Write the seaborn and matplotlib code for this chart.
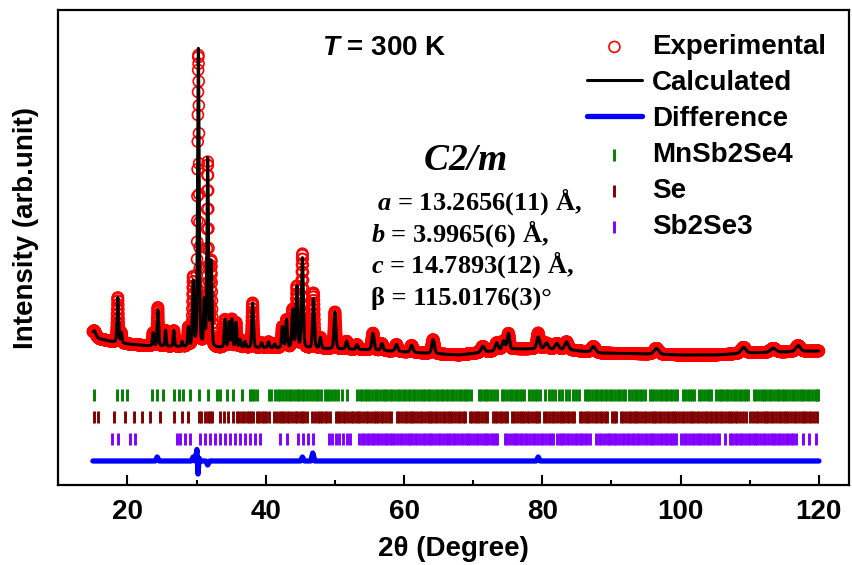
import numpy as np
import pandas as pd
import seaborn as sns
import matplotlib.pyplot as plt
from matplotlib.ticker import MultipleLocator

# Rietveld refinement of MnSb2Se4 at 300 K (arb. units)

# reflections of the calculated profile: position (deg), height above background, fwhm (deg)
peak_pos = [15.2, 18.6, 19.1, 23.7, 24.4, 25.5, 26.7, 27.9, 28.8, 29.5, 30.25, 31.1,
            31.6, 32.1, 34.1, 34.7, 35.1, 35.7, 36.3, 37.0, 38.1, 39.4, 40.4, 41.3,
            42.4, 43.0, 43.9, 44.5, 45.3, 46.9, 47.9, 50.0, 51.7, 53.2, 55.5, 56.8,
            58.9, 61.1, 64.2, 71.4, 73.4, 74.4, 75.1, 79.4, 80.6, 82.1, 83.5, 87.4,
            96.5, 109.1, 113.4, 117.0]
peak_height = [5, 45, 10, 13, 36, 16, 16, 5, 19, 64, 299, 44,
               187, 84, 28, 25, 28, 25, 8, 6, 45, 5, 6, 4,
               21, 28, 38, 61, 90, 50, 11, 37, 8, 5, 17, 7,
               7, 7, 14, 6, 8, 9, 16, 12, 6, 6, 8, 6,
               6, 6, 4, 6]
peak_fwhm = [0.5, 0.25, 0.22, 0.22, 0.25, 0.22, 0.22, 0.22, 0.22, 0.25, 0.26, 0.22,
             0.25, 0.25, 0.25, 0.22, 0.22, 0.25, 0.28, 0.28, 0.28, 0.3, 0.3, 0.3,
             0.28, 0.28, 0.28, 0.28, 0.3, 0.3, 0.3, 0.32, 0.35, 0.35, 0.4, 0.4,
             0.45, 0.45, 0.45, 0.6, 0.5, 0.5, 0.4, 0.5, 0.6, 0.6, 0.6, 0.7,
             0.8, 0.8, 0.9, 0.8]

# background of the pattern
bg_pos = [15, 16, 18, 20, 23, 28, 33, 40, 50, 55, 60, 65, 68, 72, 76, 80, 84, 88,
          95, 100, 105, 110, 115, 120]
bg_int = [150, 146, 143, 141, 139, 138, 137, 137, 136, 135, 133, 131, 130, 133, 136,
          136, 135, 132, 131, 130, 130, 132, 133, 134]

# difference curve (obs - calc), offset below the pattern
diff_pos = [15, 24.0, 24.3, 24.6, 29.2, 29.5, 29.8, 30.05, 30.2, 30.35, 30.5, 31.3,
            31.6, 31.9, 45.0, 45.3, 45.6, 46.5, 46.8, 47.1, 79.1, 79.4, 79.7, 120]
diff_int = [24, 24, 28, 24, 24, 28, 24, 36, 11, 27, 24, 24,
            20, 24, 24, 28, 24, 24, 32, 24, 24, 28, 24, 24]

# Bragg reflection markers
mnsb2se4_ticks = [
    15.1, 18.5, 19.2, 19.9, 23.5, 24.3, 25.2, 26.7, 27.4, 28.1, 29.1, 30.3,
    31.7, 32.9, 33.4, 34.4, 35.3, 36.5, 37.7, 38.0, 38.3, 38.7,
    40.4, 40.8, 41.3, 41.7, 42.0, 42.5, 42.9, 43.3, 43.6, 44.1, 44.5, 44.8,
    45.3, 45.6, 46.0, 46.4, 46.9, 47.3, 47.6, 48.0, 48.5, 48.8, 49.2, 49.6,
    50.0, 50.5, 51.0, 51.7,
    53.2, 53.6, 53.9, 54.3, 54.7, 55.0, 55.4, 55.8, 56.1, 56.5, 56.9, 57.2,
    57.6, 58.0, 58.3, 58.7, 59.1, 59.4, 59.8, 60.2, 60.5, 60.9, 61.3, 61.6,
    62.0, 62.4, 62.7, 63.1, 63.5, 63.8, 64.2, 64.6, 64.9, 65.3, 65.7, 66.0,
    66.4, 66.8, 67.1, 67.5, 67.9, 68.2, 68.6, 69.0, 69.3, 69.7, 70.8, 71.1,
    71.5, 71.9, 72.2, 72.6, 73.0, 73.4, 74.2, 74.5, 74.9, 75.3, 75.6, 76.0,
    76.4, 76.7, 77.1, 77.4, 78.1, 78.5, 78.9, 79.2, 79.6, 80.4, 80.9, 81.4,
    81.9, 82.4, 82.9, 83.4, 83.9, 84.4, 84.9, 85.3, 86.1, 86.5, 86.8, 87.2,
    87.6, 87.9, 88.3, 88.7, 89.0, 89.4, 89.8, 90.1, 90.5, 90.9, 91.2, 91.6,
    91.9, 92.6, 93.0, 93.4, 93.7, 94.1, 94.4, 94.8, 95.5, 95.9, 96.2, 96.6,
    97.0, 97.3, 97.7, 98.1, 98.4, 98.8, 99.2, 99.5, 100.3, 100.6, 101.0, 101.4,
    101.7, 102.0, 102.7, 103.0, 103.4, 103.8, 104.1, 104.4, 105.1, 105.5, 105.8,
    106.2, 106.6, 106.9, 107.3, 107.7, 108.0, 108.4, 108.8, 109.1, 109.5, 109.8,
    110.6, 110.9, 111.3, 111.7, 112.0, 112.4, 112.8, 113.1, 113.5, 113.9, 114.2,
    114.6, 115.0, 115.3, 115.7, 116.1, 116.4, 116.8, 117.2, 117.5, 117.9, 118.3,
    118.6, 119.0, 119.4, 119.7, 119.9]
se_ticks = [
    15.1, 15.8, 18.0, 19.7, 20.9, 22.1, 23.3, 24.7, 26.7, 27.9, 28.8, 30.3,
    30.7, 31.2, 31.6, 31.9, 32.2, 33.4, 33.9, 34.6, 35.3, 35.8, 36.2, 36.6,
    36.9, 37.3, 37.6, 37.9, 38.2,
    38.7, 39.0, 39.4, 39.7, 40.1, 40.5, 41.2, 41.6, 42.0, 42.3, 42.7, 43.1,
    43.4, 43.8, 44.2, 44.5, 44.9, 45.3, 45.6, 46.0, 46.7, 47.1, 47.5, 47.8,
    48.2, 48.6, 48.9, 49.3, 50.1, 50.4, 50.8, 51.2, 51.5, 51.9, 52.3, 52.6,
    53.0, 53.4, 53.7, 54.1, 54.5, 54.8, 55.2, 55.6, 55.9, 56.3, 56.7, 57.0,
    57.4, 57.8, 58.1, 59.0, 59.3, 59.7, 60.1, 60.4, 60.8, 61.2, 61.5, 61.9,
    62.3, 62.6, 63.0, 63.4, 63.7, 64.1, 64.5, 64.8, 65.2, 65.6, 65.9, 66.3,
    66.7, 67.0, 67.4, 67.8, 68.1, 68.5, 68.8, 69.5, 69.8, 70.2, 70.6, 70.9,
    71.3, 71.7, 72.0, 72.8, 73.1, 73.5, 73.9, 74.2, 74.6, 74.9, 75.6, 75.9,
    76.3, 76.7, 77.0, 77.4, 77.8, 78.1, 78.5, 78.9, 79.2, 79.5, 80.3, 80.6,
    81.0, 81.4, 81.7, 82.1, 82.5, 82.8, 83.2, 83.6, 83.9, 84.3, 84.6, 85.4,
    85.7, 86.1, 86.5, 86.8, 87.2, 87.6, 87.9, 88.3, 88.7, 89.0, 89.4, 90.1,
    90.4, 90.7, 91.4, 91.7, 92.1, 92.5, 92.8, 93.2, 93.6, 93.9, 94.3, 94.7,
    95.0, 95.4, 95.8, 96.1, 96.5, 96.9, 97.2, 97.6, 98.0, 98.3, 98.7, 99.1,
    99.4, 99.8, 100.2, 100.5, 100.9, 101.3, 101.6, 102.0, 102.4, 102.7, 103.1,
    103.5, 103.8, 104.2, 104.6, 104.9, 105.3, 105.7, 106.0, 106.4, 106.8, 107.1,
    107.5, 107.9, 108.2, 108.6, 109.0, 109.4, 110.1, 110.5, 110.9, 111.2, 111.6,
    112.0, 112.3, 112.7, 113.1, 113.4, 113.8, 114.2, 114.5, 114.9, 115.3, 115.6,
    116.0, 116.4, 116.7, 117.1, 117.5, 117.8, 118.2, 118.6, 118.9, 119.3, 119.7]
sb2se3_ticks = [
    17.7, 18.6, 20.3, 21.1, 27.1, 27.6, 28.3, 29.1, 30.5, 31.2, 31.9, 32.6,
    33.4, 34.1, 34.8, 35.5, 36.3, 37.0, 37.7, 38.4, 39.2, 42.1, 43.0, 44.7,
    45.4, 46.1, 46.9, 49.1, 49.6, 50.1, 50.6, 51.1, 51.7, 52.2,
    53.5, 53.9, 54.2, 54.6, 55.0, 55.3, 55.7, 56.1, 56.4, 56.8, 57.2, 57.5,
    57.9, 58.3, 58.6, 59.0, 59.4, 59.7, 60.1, 60.5, 60.8, 61.2, 61.6, 61.9,
    62.3, 62.7, 63.0, 63.4, 63.8, 64.1, 64.5, 64.9, 65.2, 65.6, 66.0, 66.3,
    66.7, 67.1, 67.4, 67.8, 68.2, 68.5, 68.9, 69.3, 69.6, 70.0, 70.4, 70.7,
    71.1, 71.5, 71.8, 72.2, 72.6, 72.9, 73.2, 73.4, 74.6, 74.9, 75.3, 75.7,
    76.0, 76.4, 76.8, 77.1, 77.5, 77.8, 78.2, 78.7, 79.0, 79.4, 79.8, 80.1,
    80.5, 80.9, 81.2, 81.6, 82.1, 82.5, 82.8, 83.2, 83.6, 83.9, 84.3, 84.7,
    85.0, 85.4, 85.7, 86.1, 86.4, 86.9, 87.8, 88.2, 88.5, 88.9, 89.3, 89.6,
    90.0, 90.4, 90.7, 91.1, 91.5, 91.8, 92.2, 92.6, 92.9, 93.3, 93.7, 94.0,
    94.4, 94.8, 95.1, 95.5, 95.9, 96.2, 96.6, 97.0, 97.3, 97.7, 98.1, 98.4,
    98.8, 99.1, 99.4, 100.1, 100.5, 100.8, 101.2, 101.6, 101.9, 102.3, 102.7,
    103.0, 103.4, 103.8, 104.1, 104.5, 104.8, 105.2, 105.6, 106.4, 107.1, 107.5,
    107.8, 108.2, 108.6, 108.9, 109.3, 109.7, 110.0, 110.4, 110.8, 111.1, 111.5,
    111.9, 112.2, 112.6, 113.0, 113.3, 113.7, 114.1, 114.4, 114.8, 115.2, 115.5,
    115.9, 116.3, 116.7, 117.7, 118.6, 119.6]

# build the calculated profile from the peak list
two_theta = np.arange(15.0, 120.0001, 0.02)
calc = np.interp(two_theta, bg_pos, bg_int)
for p, h, w in zip(peak_pos, peak_height, peak_fwhm):
    d = two_theta - p
    g = np.exp(-0.5 * (d / (w / 2.3548)) ** 2)
    lor = 1.0 / (1.0 + (d / (w / 2)) ** 2)
    calc = calc + h * (0.7 * g + 0.3 * lor)
diff = np.interp(two_theta, diff_pos, diff_int)
obs = calc + (diff - diff_int[0])

df = pd.DataFrame({"two_theta": two_theta, "obs": obs, "calc": calc, "diff": diff})

sns.set_style("ticks", {"axes.edgecolor": "black", "xtick.color": "black",
                        "text.color": "black", "axes.labelcolor": "black"})
plt.rcParams["font.family"] = ["Liberation Sans", "DejaVu Sans"]
plt.rcParams["font.weight"] = "bold"
plt.rcParams["axes.labelweight"] = "bold"
plt.rcParams["mathtext.fontset"] = "custom"
plt.rcParams["mathtext.it"] = "Liberation Serif:italic:bold"
plt.rcParams["mathtext.rm"] = "Liberation Serif:bold"
plt.rcParams["mathtext.sf"] = "Liberation Sans:italic:bold"

fig = plt.figure(figsize=(8.53, 5.65), dpi=100)
ax = fig.add_axes([0.0684, 0.1416, 0.9273, 0.8407])

sns.scatterplot(data=df, x="two_theta", y="obs", marker="o", s=62,
                facecolors="none", edgecolor="red", linewidth=1.2,
                label="Experimental", ax=ax, zorder=2)
sns.lineplot(data=df, x="two_theta", y="calc", color="black", linewidth=2.2,
             label="Calculated", ax=ax, zorder=3)
sns.lineplot(data=df, x="two_theta", y="diff", color="#0000ff", linewidth=3.8,
             label="Difference", ax=ax, zorder=3)

phases = [("MnSb2Se4", mnsb2se4_ticks, "#008000", 90),
          ("Se", se_ticks, "#800000", 68),
          ("Sb2Se3", sb2se3_ticks, "#8000ff", 46)]
for name, ticks, col, level in phases:
    sns.scatterplot(x=ticks, y=np.full(len(ticks), level), marker="|", s=64,
                    color=col, linewidth=2.1, label=name, ax=ax, zorder=2)

ax.set_xlim(10, 124.4)
ax.set_ylim(0, 475)
ax.set_yticks([])
ax.xaxis.set_major_locator(MultipleLocator(20))
ax.xaxis.set_minor_locator(MultipleLocator(10))
ax.tick_params(axis="x", which="major", direction="in", length=7, width=1.5,
               labelsize=20, pad=10, top=False, colors="black")
ax.tick_params(axis="x", which="minor", direction="in", length=3.5, width=1.5,
               top=False, colors="black")
for sp in ax.spines.values():
    sp.set_linewidth(1.6)
    sp.set_color("black")

ax.set_xlabel("2θ (Degree)", fontsize=20, labelpad=8, color="black")
ax.set_ylabel("Intensity (arb.unit)", fontsize=20, color="black")
ax.yaxis.set_label_coords(-0.024, 0.54)

ax.text(0.333, 0.905, r"$\mathsf{T}$ = 300 K", transform=ax.transAxes,
        fontsize=20, fontweight="bold", color="black", ha="left", va="baseline")
ax.text(0.4615, 0.663, r"$C$2/$m$", transform=ax.transAxes, fontsize=27,
        family="Liberation Serif", style="italic", fontweight="bold",
        color="black", ha="left", va="baseline")
lattice = [r" $a$ = 13.2656(11) Å,", r"$b$ = 3.9965(6) Å,",
           r"$c$ = 14.7893(12) Å,", r"β = 115.0176(3)°"]
for i, line in enumerate(lattice):
    ax.text(0.395, 0.580 - i * 0.0667, line, transform=ax.transAxes, fontsize=19,
            family="Liberation Serif", fontweight="bold", color="black",
            ha="left", va="baseline")

handles, labels = ax.get_legend_handles_labels()
leg = ax.legend(handles, labels, loc="upper right", bbox_to_anchor=(0.995, 0.99),
                frameon=False, fontsize=20, handlelength=2.0, handletextpad=0.35,
                labelspacing=0.36, borderaxespad=0.3)
for t in leg.get_texts():
    t.set_color("black")

fig.savefig("out.png", dpi=100)
